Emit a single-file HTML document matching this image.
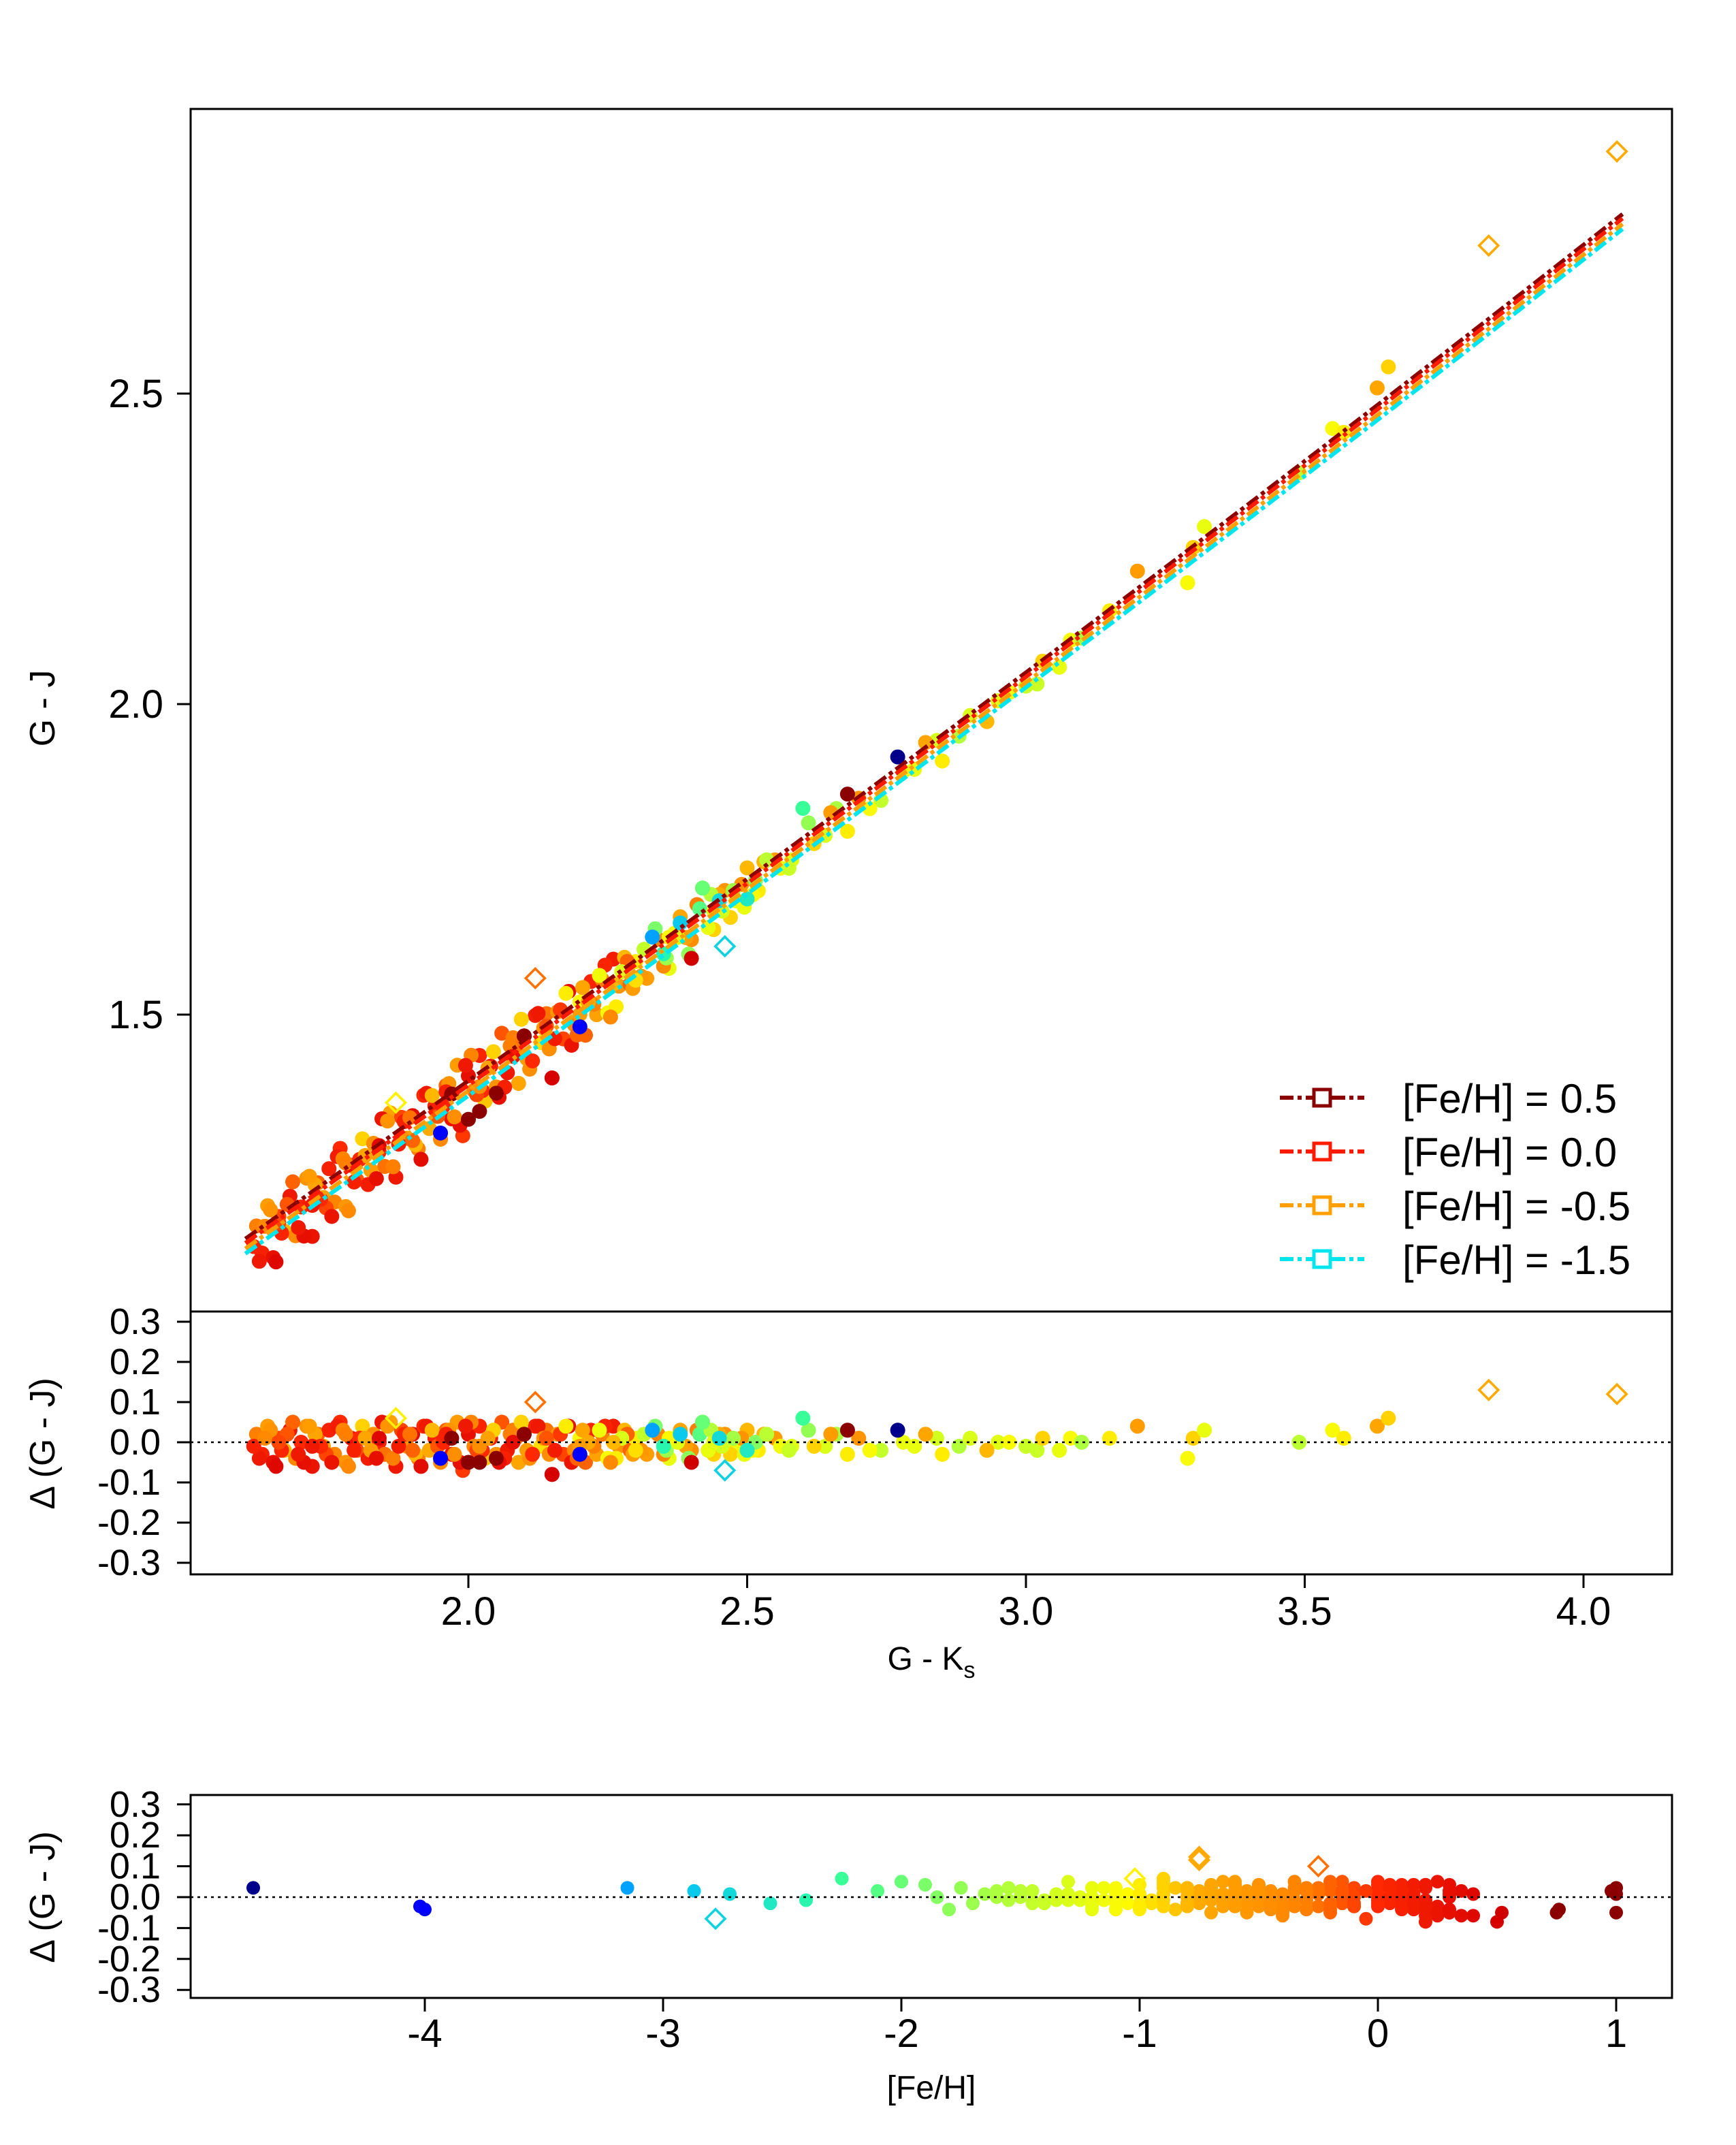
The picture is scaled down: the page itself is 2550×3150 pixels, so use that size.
<!DOCTYPE html>
<html><head><meta charset="utf-8"><style>
html,body{margin:0;padding:0;background:#fff;}
svg{display:block;font-family:"Liberation Sans",sans-serif;}
</style></head><body>
<svg id="chart" width="2550" height="3150" viewBox="0 0 1275 1575" xmlns="http://www.w3.org/2000/svg">
<g id="g-main"></g>
<g id="g-res"></g>
<g id="g-feh"></g>
</svg>
<script>
const gkA=[1.62,1.63,1.64,1.65,1.66,1.67,1.68,1.69,1.70,1.71,1.72,1.73,1.74,1.75,1.76,1.77,1.78,1.79,1.80,1.81,1.82,1.83,1.84,1.85,1.86,1.87,1.88,1.89,1.90,1.91,1.92,1.93,1.94,1.95,1.96,1.97,1.98,1.99,2.00,2.01,2.02,2.03,2.04,2.05,2.06,2.07,2.08,2.09,2.10,2.11,2.12,2.13,2.14,2.15,2.16,2.17,2.18,2.19,2.20,2.21,2.22,2.23,2.24,2.25,2.26,2.27,2.28,2.29,2.30,2.32,2.34,2.36,2.38,2.40,2.42,2.44,2.46,2.48,2.50,2.52,2.55,2.58];
const dA=[0.02,-0.03,0.04,-0.05,0.01,-0.02,0.03,-0.04,0.00,0.04,-0.06,0.02,-0.01,0.03,-0.03,0.05,-0.05,0.01,-0.02,0.04,-0.04,0.02,0.00,-0.03,0.05,-0.06,0.03,-0.01,0.02,-0.04,0.04,-0.02,0.01,-0.05,0.03,-0.03,0.05,-0.07,0.02,-0.01,0.04,-0.04,0.01,-0.03,0.05,-0.02,0.03,-0.05,0.02,-0.04,0.04,-0.01,0.03,-0.08,0.02,-0.03,0.04,-0.02,0.01,-0.05,0.03,-0.03,0.02,-0.04,0.04,-0.01,0.03,-0.02,0.01,-0.03,0.02,-0.04,0.03,-0.02,0.05,-0.03,0.02,-0.01,0.03,-0.02,0.01,-0.01];
const fehA=[-0.3,0.1,-0.6,0.3,-0.1,-0.8,0.2,-0.4,0.0,-0.5,0.25,-0.2,-0.7,0.1,-0.35,0.0,-0.55,0.3,-0.15,-0.9,0.15,-0.45,0.05,-0.25,-0.65,0.2,-0.1,-0.5,0.35,-0.3,0.0,-0.75,0.1,-0.4,-0.2,0.25,-0.6,-0.05,0.3,-0.35,0.05,-0.85,0.15,-0.5,-0.15,0.2,-0.3,-0.7,0.0,-0.45,0.1,-0.95,-0.25,0.2,-0.55,-0.1,0.3,-0.4,-1.05,-0.2,0.05,-0.65,-0.3,-1.1,0.15,-0.5,-0.8,-0.2,-1.0,-0.6,-0.35,-1.2,-0.7,-0.45,-1.3,-0.9,-0.5,-1.15,-0.8,-1.0,-0.6,-1.25];
const gkB=[1.625,1.645,1.665,1.685,1.705,1.725,1.745,1.765,1.785,1.805,1.825,1.845,1.865,1.885,1.905,1.925,1.945,1.965,1.985,2.005,2.025,2.045,2.065,2.085,2.105,2.125,2.145,2.165,2.185,2.205,2.225,2.245,2.265,2.285,2.31,2.33,2.35,2.37,2.39,2.41,2.43,2.45,2.47,2.49,2.51,2.53,2.56];
const dB=[-0.04,0.03,-0.02,0.05,-0.05,0.02,-0.03,0.04,-0.06,0.01,-0.02,0.05,-0.04,0.02,-0.03,0.04,-0.01,0.03,-0.05,0.05,-0.02,0.03,-0.04,0.01,-0.02,0.04,-0.03,0.02,-0.05,0.03,-0.01,0.04,-0.04,0.02,-0.02,0.03,-0.03,0.01,-0.01,0.03,-0.02,0.02,-0.03,0.01,-0.02,0.02,-0.01];
const fehB=[0.2,-0.5,0.05,-0.2,0.3,-0.7,-0.1,0.15,-0.4,0.0,-0.6,0.25,-0.3,0.1,-0.8,0.2,-0.15,-0.5,0.3,-0.35,0.0,-0.9,0.1,-0.25,-0.6,0.2,-0.45,-0.05,0.25,-0.7,-0.3,0.05,-1.0,-0.2,-0.55,-0.85,-0.4,-1.1,-0.65,-0.3,-1.2,-0.75,-0.9,-0.5,-1.05,-0.8,-1.15];
const gkC=[2.60,2.62,2.65,2.68,2.70,2.72,2.77,2.80,2.82,2.85,2.90,2.93,2.97,3.00,3.03,3.06,3.10,3.15,3.20,3.29,3.30,3.32,3.49,3.55,3.57,3.63,3.65,2.33,2.38,2.42,2.45,2.50,2.35,1.95,2.20,2.00,2.02,2.05,2.15,1.97,2.68,2.40,2.10];
const dC=[0.06,-0.01,0.02,-0.03,0.01,-0.02,0.03,-0.01,0.02,-0.03,0.01,-0.02,0.00,-0.01,0.01,-0.02,0.00,0.01,0.04,-0.04,0.01,0.03,0.00,0.03,0.01,0.04,0.06,0.03,0.02,0.05,0.01,-0.02,-0.01,-0.04,-0.03,-0.05,-0.05,-0.04,-0.08,0.01,0.03,-0.05,0.02];
const fehC=[-2.25,-0.9,-0.6,-1.0,-0.5,-1.1,-4.72,-1.2,-0.7,-1.0,-1.3,-0.8,-1.1,-1.4,-0.9,-1.2,-1.6,-1.0,-0.6,-1.1,-0.9,-1.2,-1.5,-1.1,-1.0,-0.7,-0.9,-3.15,-2.87,-2.0,-2.72,-2.55,-2.4,-4.0,-4.02,0.75,1.0,0.76,0.5,1.0,1.0,0.52,0.98];
const gkE=[1.615,1.635,1.655,1.675,1.695,1.715,1.735,1.755,1.775,1.795,1.815,1.835,1.855,1.875,1.895,1.915,1.935,1.955,1.975,1.995,2.015,2.035,2.055,2.075,2.095,2.115,2.135,2.155,2.175,2.195,2.215,2.235,2.255,2.275,2.295,2.315,2.335,2.355,2.375,2.395,2.415,2.435,2.455,2.475,2.495,2.515,2.535,2.575,2.61,2.64,2.66,2.74,2.78,2.84,2.88,2.95,3.02,3.08,1.66,1.72,1.78,1.84,1.90,1.96,2.02,2.08,2.14,2.20,2.26,2.30,2.36,2.44];
const dE=[-0.01,0.01,-0.06,0.02,-0.03,0.04,-0.01,-0.05,0.03,-0.02,0.01,-0.04,0.04,-0.01,0.02,-0.06,0.03,0.00,-0.03,0.04,-0.02,0.01,-0.05,0.02,0.05,-0.03,0.01,-0.02,0.04,-0.04,0.00,0.03,-0.05,0.01,-0.03,0.02,0.04,-0.02,0.00,-0.04,0.02,0.03,-0.01,0.01,-0.03,0.00,0.02,-0.02,0.03,-0.01,0.02,-0.02,0.00,0.01,-0.01,0.00,-0.02,0.01,0.00,-0.01,0.02,0.01,-0.02,0.02,-0.01,0.00,0.01,-0.01,0.00,-0.02,0.01,0.00];
const fehE=[0.1,-0.4,0.4,-0.15,0.2,-0.6,0.0,0.25,-0.35,0.1,-0.7,0.3,-0.5,0.15,-0.25,0.35,-0.8,0.05,-0.45,0.2,-0.1,-0.65,0.3,-0.3,-0.9,0.0,-0.55,0.15,-1.0,-0.2,-0.75,-1.15,-0.4,-1.3,-0.6,-1.45,-1.9,-1.7,-1.25,-1.8,-2.1,-1.55,-1.35,-1.65,-1.2,-1.85,-1.5,-1.4,-1.75,-1.3,-1.6,-1.45,-1.2,-1.35,-1.55,-1.25,-1.4,-1.1,-0.1,0.2,-0.3,0.4,-0.2,0.1,-0.45,0.3,-0.15,-0.6,-0.8,-0.95,-1.05,-1.25];
const gkD=[1.87,2.12,2.46,3.83,4.06];
const dD=[0.06,0.10,-0.07,0.13,0.12];
const fehD=[-1.02,-0.25,-2.78,-0.75,-0.75];
const lineFeh=[0.5,0.0,-0.5,-1.5];
const lineOff=[0.012,0.005,-0.004,-0.012];
const lineCol=["#8b0000","#ff1a00","#ffa000","#00e5ee"];
const xTicks=[2.0,2.5,3.0,3.5,4.0];
const yTicks=[1.5,2.0,2.5];
const rTicks=[0.3,0.2,0.1,0.0,-0.1,-0.2,-0.3];
const fTicks=[-4,-3,-2,-1,0,1];

const NS="http://www.w3.org/2000/svg";
const X=v=>344+(v-2.0)*409.5;
const Y=v=>517-(v-2.0)*456;
const RY=v=>1059-v*295;
const FX=v=>1012+v*175;
const FY=v=>1393-v*227;
const fit=x=>0.16+0.5795*x+0.0156*x*x;
const stops=[[-4.7,[0,0,139]],[-4,[0,0,255]],[-3,[0,190,255]],[-2.3,[48,255,160]],[-1.8,[140,255,90]],[-1.35,[210,255,30]],[-1.05,[255,250,0]],[-0.75,[255,170,0]],[-0.3,[255,128,0]],[0,[255,40,0]],[0.5,[215,0,0]],[0.75,[139,0,0]],[1.1,[139,0,0]]];
function col(f){if(f<=stops[0][0])return "rgb(0,0,139)";for(let i=1;i<stops.length;i++){if(f<=stops[i][0]){const a=stops[i-1],b=stops[i],t=(f-a[0])/(b[0]-a[0]);return "rgb("+a[1].map((c,j)=>Math.round(c+(b[1][j]-c)*t)).join(",")+")";}}return "rgb(139,0,0)";}
function el(p,t,a){const e=document.createElementNS(NS,t);for(const k in a)e.setAttribute(k,a[k]);p.appendChild(e);return e;}
function txt(p,x,y,s,size,anchor,rot){const e=el(p,"text",{x:x,y:y,"font-size":size,"text-anchor":anchor||"middle",fill:"#000"});if(rot)e.setAttribute("transform","rotate(-90 "+x+" "+y+")");e.textContent=s;return e;}
const gm=document.getElementById("g-main"),gr=document.getElementById("g-res"),gf=document.getElementById("g-feh");

const sets=[[gkA,dA,fehA],[gkB,dB,fehB],[gkE,dE,fehE],[gkC,dC,fehC]];
sets.forEach(s=>{const n=Math.min(s[0].length,s[1].length,s[2].length);for(let i=0;i<n;i++){const c=col(s[2][i]);
let p=el(gm,"circle",{cx:X(s[0][i]),cy:Y(fit(s[0][i])+s[1][i]),r:5.5,fill:c});


p=el(gr,"circle",{cx:X(s[0][i]),cy:RY(s[1][i]),r:5.5,fill:c});


p=el(gf,"circle",{cx:FX(s[2][i]),cy:FY(s[1][i]),r:5,fill:c});

}});
function dia(p,x,y,c){const s=7;return el(p,"polygon",{points:`${x},${y-s} ${x+s},${y} ${x},${y+s} ${x-s},${y}`,fill:"none",stroke:c,"stroke-width":1.8});}
for(let i=0;i<gkD.length;i++){const c=col(fehD[i]);
let p=dia(gm,X(gkD[i]),Y(fit(gkD[i])+dD[i]),c);


p=dia(gr,X(gkD[i]),RY(dD[i]),c);


p=dia(gf,FX(fehD[i]),FY(dD[i]),c);

}
for(let i=0;i<lineFeh.length;i++){let d="";for(let k=0;k<=40;k++){const x=1.6+k*(4.07-1.6)/40;d+=(k?"L":"M")+X(x).toFixed(1)+","+Y(fit(x)+lineOff[i]).toFixed(1);}
const l=el(gm,"path",{d:d,fill:"none",stroke:lineCol[i],"stroke-width":3,"stroke-dasharray":"10,3,3,3"});

}
for(let i=0;i<lineFeh.length;i++){const y=806+i*39.5;
const g=el(gm,"g",{});


el(g,"line",{x1:940,y1:y,x2:1002,y2:y,stroke:lineCol[i],"stroke-width":3,"stroke-dasharray":"10,3,3,3"});
el(g,"rect",{x:965,y:y-6,width:12,height:12,fill:"#fff",stroke:lineCol[i],"stroke-width":2.5});
txt(g,1030,y+11,"[Fe/H] = "+(lineFeh[i]===0?"0.0":lineFeh[i]),30,"start");}
el(gm,"rect",{x:140,y:80,width:1088,height:883,fill:"none",stroke:"#000","stroke-width":1.5});
el(gr,"rect",{x:140,y:963,width:1088,height:193,fill:"none",stroke:"#000","stroke-width":1.5});
el(gf,"rect",{x:140,y:1318,width:1088,height:149,fill:"none",stroke:"#000","stroke-width":1.5});
el(gr,"line",{x1:140,y1:RY(0),x2:1228,y2:RY(0),stroke:"#000","stroke-width":1.3,"stroke-dasharray":"2,3"});
el(gf,"line",{x1:140,y1:FY(0),x2:1228,y2:FY(0),stroke:"#000","stroke-width":1.3,"stroke-dasharray":"2,3"});
yTicks.forEach(v=>{el(gm,"line",{x1:140,y1:Y(v),x2:130,y2:Y(v),stroke:"#000","stroke-width":1.5});txt(gm,120,Y(v)+10,v.toFixed(1),29,"end");});
rTicks.forEach(v=>{el(gr,"line",{x1:140,y1:RY(v),x2:130,y2:RY(v),stroke:"#000","stroke-width":1.5});txt(gr,118,RY(v)+9,v.toFixed(1),27,"end");});
rTicks.forEach(v=>{el(gf,"line",{x1:140,y1:FY(v),x2:130,y2:FY(v),stroke:"#000","stroke-width":1.5});txt(gf,118,FY(v)+9,v.toFixed(1),27,"end");});
xTicks.forEach(v=>{el(gr,"line",{x1:X(v),y1:1156,x2:X(v),y2:1166,stroke:"#000","stroke-width":1.5});txt(gr,X(v),1193,v.toFixed(1),29);});
fTicks.forEach(v=>{el(gf,"line",{x1:FX(v),y1:1467,x2:FX(v),y2:1477,stroke:"#000","stroke-width":1.5});txt(gf,FX(v),1503,String(v),29);});
let t=txt(gm,40,520,"G - J",26,"middle",true);
t=txt(gr,40,1060,"Δ (G - J)",26,"middle",true);
t=txt(gf,40,1393,"Δ (G - J)",26,"middle",true);
t=el(gr,"text",{x:684,y:1226,"font-size":24,"text-anchor":"middle"});t.innerHTML='G - K<tspan font-size="17" dy="6">s</tspan>';

t=txt(gf,684,1541,"[Fe/H]",24);
</script>
</body></html>
